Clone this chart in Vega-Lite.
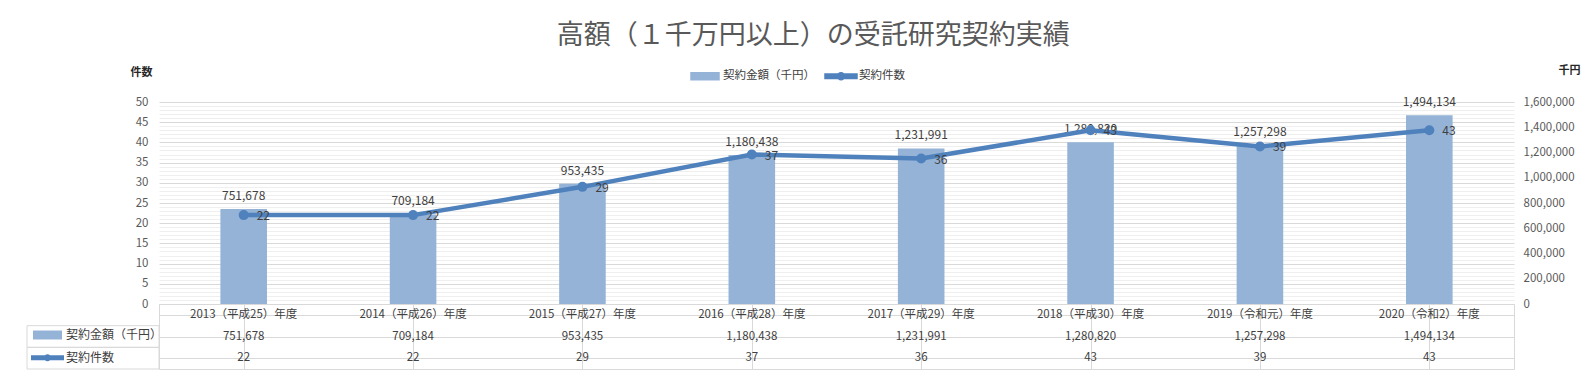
{
  "$schema": "https://vega.github.io/schema/vega-lite/v6.json",
  "background": "white",
  "padding": {"left": 26, "top": 22, "right": 5, "bottom": 5},
  "config": {
    "font": "Noto Sans CJK JP",
    "view": {"stroke": null},
    "axis": {"labelFont": "Noto Sans CJK JP", "labelColor": "#595959", "labelFontSize": 11.5, "titleFont": "Noto Sans CJK JP"},
    "legend": {"labelFont": "Noto Sans CJK JP", "labelColor": "#404040", "labelFontSize": 11.5}
  },
  "title": {"text": "高額（１千万円以上）の受託研究契約実績", "fontSize": 27, "fontWeight": "normal", "color": "#595959", "anchor": "middle", "frame": "bounds", "dx": 10, "offset": 14},
  "datasets": {
    "main": [
      {"year": "2013（平成25）年度", "amount": 751678, "count": 22},
      {"year": "2014（平成26）年度", "amount": 709184, "count": 22},
      {"year": "2015（平成27）年度", "amount": 953435, "count": 29},
      {"year": "2016（平成28）年度", "amount": 1180438, "count": 37},
      {"year": "2017（平成29）年度", "amount": 1231991, "count": 36},
      {"year": "2018（平成30）年度", "amount": 1280820, "count": 43},
      {"year": "2019（令和元）年度", "amount": 1257298, "count": 39},
      {"year": "2020（令和2）年度", "amount": 1494134, "count": 43}
    ],
    "series": [
      {"series": "契約金額（千円）"},
      {"series": "契約件数"}
    ]
  },
  "columns": 2,
  "spacing": 0,
  "bounds": "flush",
  "resolve": {"scale": {"color": "independent", "shape": "independent"}, "legend": {"color": "independent", "shape": "independent"}},
  "concat": [
    {
      "width": 132, "height": 202,
      "data": {"values": [{}]},
      "mark": {"type": "point", "opacity": 0},
      "encoding": {}
    },
    {
      "width": 1355, "height": 202,
      "data": {"name": "main"},
      "resolve": {"scale": {"y": "independent"}},
      "layer": [
        {
          "encoding": {
            "x": {"field": "year", "type": "nominal", "sort": null, "scale": {"paddingInner": 0.725, "paddingOuter": 0.3625}, "axis": null},
            "y": {"field": "amount", "type": "quantitative", "scale": {"domain": [0, 1600000], "nice": false},
              "axis": {"orient": "right", "values": [0, 200000, 400000, 600000, 800000, 1000000, 1200000, 1400000, 1600000], "labelExpr": "format(datum.value, ',')", "grid": false, "ticks": false, "domain": false, "labelPadding": 9,
                "title": "千円", "titleAngle": 0, "titleX": 55, "titleY": -32, "titleAlign": "center", "titleBaseline": "middle", "titleFontSize": 11, "titleFontWeight": "bold", "titleColor": "#262626"}}
          },
          "layer": [
            {
              "mark": {"type": "bar"},
              "encoding": {
                "color": {"datum": "契約金額（千円）", "type": "nominal",
                  "scale": {"domain": ["契約金額（千円）", "契約件数"], "range": ["#95B3D7", "#4F81BD"]},
                  "legend": {"orient": "none", "legendX": 540, "legendY": -32, "direction": "horizontal", "title": null, "symbolSize": 100, "labelOffset": 12, "columnPadding": 7, "padding": 0, "symbolOpacity": 1,
                    "encode": {"symbols": {"update": {
                      "shape": {"signal": "datum.value === '契約件数' ? 'M-3.2,-0.45H3.2V0.45H-3.2ZM0.7,0A0.7,0.7 0 1 1 -0.7,0A0.7,0.7 0 1 1 0.7,0Z' : 'M-2.8,-0.7H2.8V0.7H-2.8Z'"},
                      "fill": {"signal": "datum.value === '契約件数' ? '#4F81BD' : '#95B3D7'"},
                      "stroke": {"value": "transparent"},
                      "opacity": {"value": 1}
                    }}}}
                }
              }
            },
            {
              "mark": {"type": "text", "baseline": "bottom", "dy": -6, "fontSize": 12, "color": "#404040"},
              "encoding": {"text": {"field": "amount", "type": "quantitative", "format": ","}}
            }
          ]
        },
        {
          "encoding": {
            "x": {"field": "year", "type": "nominal", "sort": null, "axis": null},
            "y": {"field": "count", "type": "quantitative", "scale": {"domain": [0, 50], "nice": false},
              "axis": {"orient": "left", "values": [0,1,2,3,4,5,6,7,8,9,10,11,12,13,14,15,16,17,18,19,20,21,22,23,24,25,26,27,28,29,30,31,32,33,34,35,36,37,38,39,40,41,42,43,44,45,46,47,48,49,50],
                "labelExpr": "datum.value % 5 === 0 ? datum.label : ''", "grid": true,
                "gridColor": {"condition": {"test": "datum.value % 5 === 0", "value": "#d9d9d9"}, "value": "#efefef"},
                "ticks": false, "domain": false, "labelPadding": 11,
                "title": "件数", "titleAngle": 0, "titleX": -18, "titleY": -30, "titleAlign": "center", "titleBaseline": "middle", "titleFontSize": 11, "titleFontWeight": "bold", "titleColor": "#262626"}}
          },
          "layer": [
            {
              "mark": {"type": "line", "strokeWidth": 4.5, "point": {"filled": true, "size": 100}},
              "encoding": {"color": {"datum": "契約件数", "type": "nominal"}}
            },
            {
              "mark": {"type": "text", "align": "left", "baseline": "middle", "dx": 13, "dy": 1, "fontSize": 12, "color": "#404040"},
              "encoding": {"text": {"field": "count", "type": "quantitative"}}
            }
          ]
        }
      ]
    },
    {
      "width": 132, "height": 65,
      "data": {"name": "series"},
      "encoding": {
        "y": {"field": "series", "type": "nominal", "sort": null, "scale": {"domain": ["_header", "契約金額（千円）", "契約件数"], "paddingInner": 0, "paddingOuter": 0}, "axis": null}
      },
      "layer": [
        {
          "mark": {"type": "bar", "filled": false, "color": "#d9d9d9", "strokeWidth": 1}
        },
        {
          "mark": {"type": "point", "filled": true, "opacity": 0},
          "encoding": {
            "color": {"field": "series", "type": "nominal", "sort": null,
              "scale": {"domain": ["契約金額（千円）", "契約件数"], "range": ["#95B3D7", "#4F81BD"]},
              "legend": {"orient": "none", "legendX": 14.5, "legendY": 25, "direction": "vertical", "title": null, "symbolSize": 100, "labelOffset": 12.5, "rowPadding": 7.7, "padding": 0, "symbolOpacity": 1, "labelFontSize": 12}},
            "shape": {"field": "series", "type": "nominal", "sort": null,
              "scale": {"domain": ["契約金額（千円）", "契約件数"], "range": ["M-2.9,-0.9H2.9V0.9H-2.9Z", "M-3.3,-0.5H3.3V0.5H-3.3ZM0.7,0A0.7,0.7 0 1 1 -0.7,0A0.7,0.7 0 1 1 0.7,0Z"]},
              "legend": {"orient": "none", "legendX": 14.5, "legendY": 25, "direction": "vertical", "title": null, "symbolSize": 100, "labelOffset": 12.5, "rowPadding": 7.7, "padding": 0, "symbolOpacity": 1, "labelFontSize": 12}}
          }
        }
      ]
    },
    {
      "width": 1355, "height": 65,
      "data": {"name": "main"},
      "view": {"stroke": "#d9d9d9"},
      "encoding": {
        "x": {"field": "year", "type": "nominal", "sort": null, "scale": {"paddingInner": 0, "paddingOuter": 0},
          "axis": {"grid": true, "bandPosition": 0, "labels": false, "ticks": false, "domain": false, "title": null, "gridColor": "#d9d9d9"}}
      },
      "layer": [
        {
          "mark": {"type": "text", "fontSize": 11.5, "color": "#404040"},
          "encoding": {
            "y": {"datum": "header", "type": "nominal", "scale": {"domain": ["header", "amount", "count"], "paddingInner": 0, "paddingOuter": 0},
              "axis": {"grid": true, "bandPosition": 0, "labels": false, "ticks": false, "domain": false, "title": null, "gridColor": "#d9d9d9"}},
            "text": {"field": "year"}
          }
        },
        {
          "mark": {"type": "text", "fontSize": 11.5, "color": "#404040"},
          "encoding": {
            "y": {"datum": "amount", "type": "nominal"},
            "text": {"field": "amount", "type": "quantitative", "format": ","}
          }
        },
        {
          "mark": {"type": "text", "fontSize": 11.5, "color": "#404040"},
          "encoding": {
            "y": {"datum": "count", "type": "nominal"},
            "text": {"field": "count", "type": "quantitative"}
          }
        }
      ]
    }
  ]
}
